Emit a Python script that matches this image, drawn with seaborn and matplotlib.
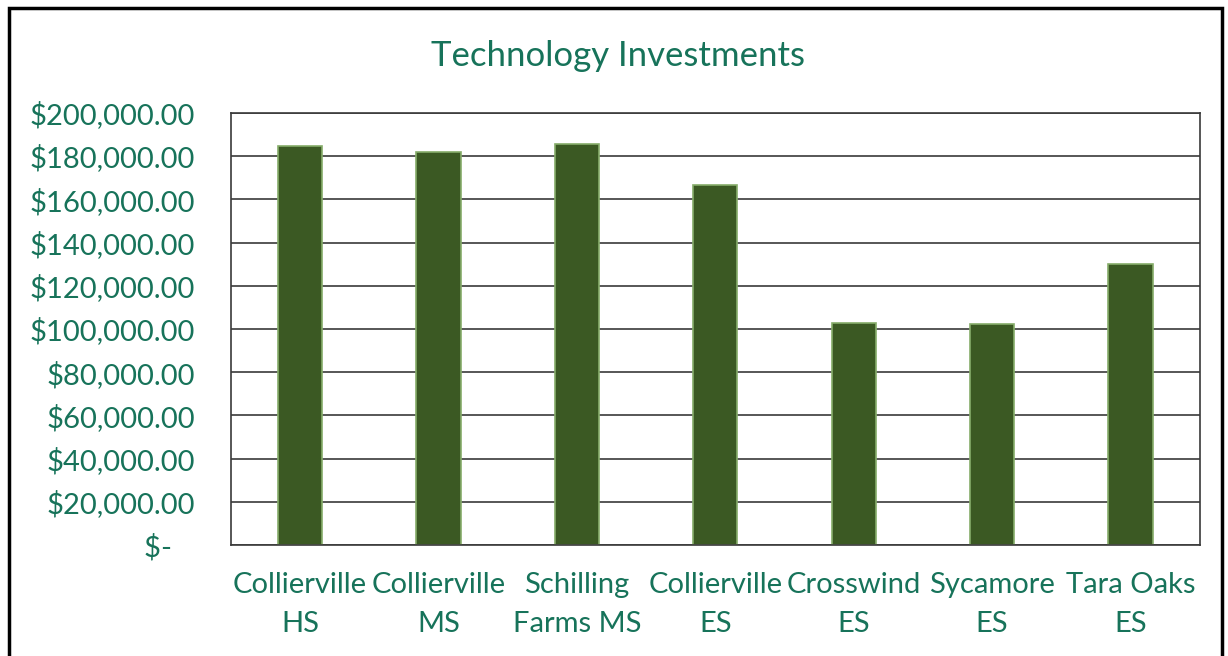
import numpy as np
import pandas as pd
import matplotlib
matplotlib.use('Agg')
import matplotlib.pyplot as plt
import seaborn as sns
from matplotlib.patches import Rectangle
from matplotlib.ticker import FuncFormatter

# 학교별 기술 투자 금액
schools = ['Collierville\nHS', 'Collierville\nMS', 'Schilling\nFarms MS', 'Collierville\nES',
           'Crosswind\nES', 'Sycamore\nES', 'Tara Oaks\nES']
amounts = [184700, 181900, 185600, 166700, 102800, 102300, 130100]
yticks = [0, 20000, 40000, 60000, 80000, 100000, 120000, 140000, 160000, 180000, 200000]

txt_color = '#17735a'
bar_color = '#3b5923'

sns.set_style('white')
plt.rcParams['font.family'] = ['Lato', 'DejaVu Sans']

df = pd.DataFrame({'school': schools, 'amount': amounts})

fig = plt.figure(figsize=(12.28, 6.56), dpi=100)
ax = fig.add_axes([0.188, 0.169, 0.789, 0.659])

sns.barplot(data=df, x='school', y='amount', color=bar_color, width=0.32,
            edgecolor='#86ad6a', linewidth=1.2, saturation=1, ax=ax)

ax.set_ylim(0, 200000)
ax.set_yticks(yticks)
ax.yaxis.set_major_formatter(FuncFormatter(lambda v, p: '$-   ' if v == 0 else f'${v:,.2f}'))
ax.grid(axis='y', color='#3a3a3a', linewidth=1.2)
ax.set_axisbelow(True)
for s in ax.spines.values():
    s.set_color('#3a3a3a')
    s.set_linewidth(1.2)
ax.tick_params(axis='both', length=0, labelsize=21, colors=txt_color)
ax.tick_params(axis='x', pad=19)
ax.tick_params(axis='y', pad=26)
for t in ax.get_xticklabels():
    t.set_linespacing(1.65)
for t in ax.get_yticklabels():
    t.set_y(t.get_position()[1])
ax.set_xlabel('')
ax.set_ylabel('')
ax.set_xlim(-0.5, 6.5)

fig.text(0.503, 0.915, 'Technology Investments', ha='center', va='center',
         fontsize=25, color=txt_color)

# 바깥 테두리
fig.patches.append(Rectangle((0.007, -0.01), 0.988, 0.998, transform=fig.transFigure,
                             fill=False, edgecolor='black', linewidth=2.5))

fig.savefig('out.png', dpi=100)
